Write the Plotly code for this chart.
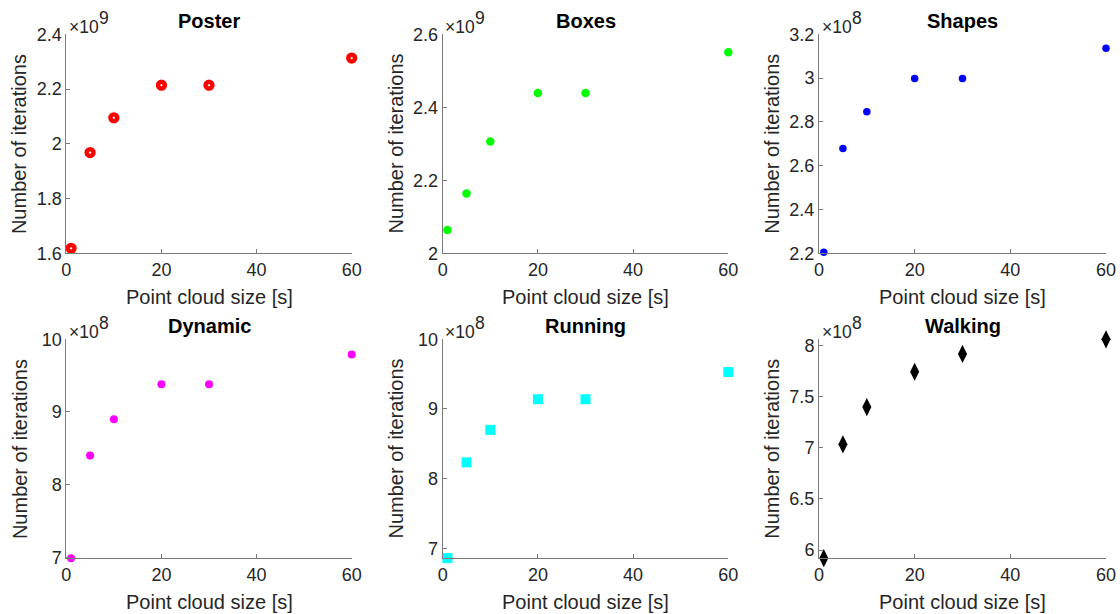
import plotly.graph_objects as go

# Point cloud sizes [s] shared by all sequences
cloud_size = [1, 5, 10, 20, 30, 60]

# Number of iterations per sequence
poster_iter = [1.618e9, 1.968e9, 2.095e9, 2.214e9, 2.214e9, 2.313e9]
boxes_iter = [2.064e9, 2.164e9, 2.306e9, 2.439e9, 2.439e9, 2.551e9]
shapes_iter = [2.205e8, 2.679e8, 2.846e8, 2.998e8, 2.998e8, 3.136e8]
dynamic_iter = [6.985e8, 8.40e8, 8.90e8, 9.38e8, 9.38e8, 9.79e8]
running_iter = [6.86e8, 8.234e8, 8.70e8, 9.14e8, 9.14e8, 9.53e8]
walking_iter = [5.92e8, 7.033e8, 7.397e8, 7.742e8, 7.916e8, 8.059e8]

titles = ["Poster", "Boxes", "Shapes", "Dynamic", "Running", "Walking"]
exponents = [9, 9, 8, 8, 8, 8]
series = [poster_iter, boxes_iter, shapes_iter, dynamic_iter, running_iter, walking_iter]

# y ranges and ticks (in units of 10^exponent)
y_ranges = [[1.6, 2.4], [2.0, 2.6], [2.2, 3.2], [6.985, 10.0], [6.857, 10.0], [5.919, 8.059]]
y_ticks = [
    [1.6, 1.8, 2.0, 2.2, 2.4],
    [2.0, 2.2, 2.4, 2.6],
    [2.2, 2.4, 2.6, 2.8, 3.0, 3.2],
    [7, 8, 9, 10],
    [7, 8, 9, 10],
    [6, 6.5, 7, 7.5, 8],
]
y_ticklabels = [
    ["1.6", "1.8", "2", "2.2", "2.4"],
    ["2", "2.2", "2.4", "2.6"],
    ["2.2", "2.4", "2.6", "2.8", "3", "3.2"],
    ["7", "8", "9", "10"],
    ["7", "8", "9", "10"],
    ["6", "6.5", "7", "7.5", "8"],
]
x_ticks = [0, 20, 40, 60]

markers = [
    dict(symbol="circle-dot", size=12.5, color="#ff0000", line=dict(color="#ffffff", width=1.2)),
    dict(symbol="circle", size=8.5, color="#00ff00", line=dict(width=0)),
    dict(symbol="circle", size=7.5, color="#0000ff", line=dict(width=0)),
    dict(symbol="circle", size=8, color="#ff00ff", line=dict(width=0)),
    dict(symbol="square", size=10, color="#00ffff", line=dict(width=0)),
    dict(symbol="diamond-tall", size=13, color="#000000", line=dict(width=0)),
]

W, H = 1120, 614
col_px = [(66.3, 351.7), (442.7, 728.3), (819.0, 1106.0)]
row_px = [(34.3, 253.3), (339.3, 558.3)]

AX_COLOR = "#7a7a7a"
TXT_COLOR = "#262626"
FONT = "Liberation Sans, Arial, Helvetica, sans-serif"
TICK_SIZE = 18
LABEL_SIZE = 20
EXP_SIZE = 17.5

fig = go.Figure()
annotations = []


def paper_note(text, px, py, size, xanchor="center", yanchor="middle", color=TXT_COLOR, **kw):
    """Annotation placed in figure pixel coordinates (origin top-left)."""
    return dict(
        text=text, x=px / W, y=1 - py / H,
        xref="paper", yref="paper", xanchor=xanchor, yanchor=yanchor,
        showarrow=False, borderpad=0,
        font=dict(family=FONT, size=size, color=color), **kw,
    )


for i in range(6):
    r, c = divmod(i, 3)
    x0, x1 = col_px[c]
    yt, yb = row_px[r]
    xd = [x0 / W, x1 / W]
    yd = [1 - yb / H, 1 - yt / H]
    n = i + 1
    xa = "x" if n == 1 else f"x{n}"
    ya = "y" if n == 1 else f"y{n}"
    scale = 10 ** exponents[i]

    fig.add_trace(go.Scatter(
        x=cloud_size,
        y=[v / scale for v in series[i]],
        mode="markers",
        marker=markers[i],
        xaxis=xa, yaxis=ya,
        showlegend=False,
        cliponaxis=False,
    ))

    axis_common = dict(
        showline=True, linecolor=AX_COLOR, linewidth=1,
        ticks="inside", ticklen=4, tickcolor=AX_COLOR, tickwidth=1,
        showgrid=False, zeroline=False, automargin=False,
        tickfont=dict(family=FONT, size=TICK_SIZE, color=TXT_COLOR),
        fixedrange=True,
    )
    fig.layout[f"xaxis{n if n > 1 else ''}"] = dict(
        domain=xd, range=[0, 60], tickvals=x_ticks,
        anchor=ya, **axis_common,
    )
    fig.layout[f"yaxis{n if n > 1 else ''}"] = dict(
        domain=yd, range=y_ranges[i], tickvals=y_ticks[i], ticktext=y_ticklabels[i],
        anchor=xa, **axis_common,
    )

    xc = (x0 + x1) / 2
    # Subplot title
    annotations.append(paper_note(f"<b>{titles[i]}</b>", xc, yt - 13.5, LABEL_SIZE, color="#000000"))
    # Exponent label: "×10" with the power raised beside it
    annotations.append(paper_note("×10", x0 + 1.5, yt - 7.5, EXP_SIZE, xanchor="left"))
    annotations.append(paper_note(str(exponents[i]), x0 + 31.5, yt - 16, EXP_SIZE, xanchor="left"))
    # x-axis title
    annotations.append(paper_note("Point cloud size [s]", xc, yb + 44, LABEL_SIZE))
    # y-axis title
    annotations.append(paper_note("Number of iterations", x0 - 47, (yt + yb) / 2, LABEL_SIZE, textangle=-90))

fig.update_layout(
    width=W, height=H,
    margin=dict(l=0, r=0, t=0, b=0, autoexpand=False),
    paper_bgcolor="#ffffff", plot_bgcolor="#ffffff",
    annotations=annotations,
    font=dict(family=FONT, color=TXT_COLOR),
)

fig.write_html("out.html", include_plotlyjs=True, config={"displayModeBar": False})
